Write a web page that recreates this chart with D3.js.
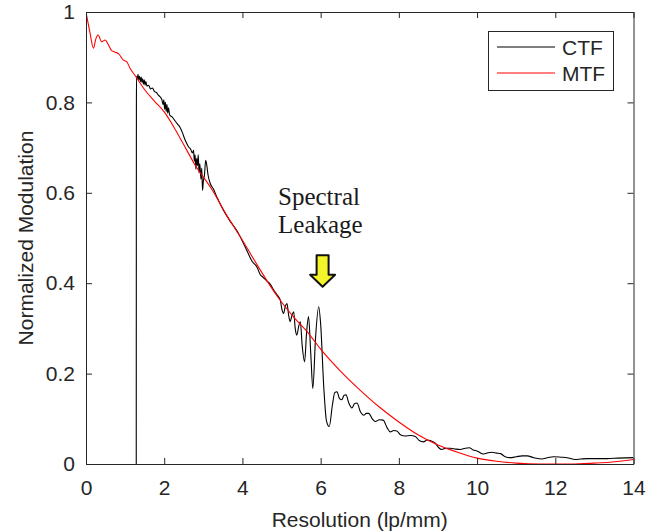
<!DOCTYPE html>
<html><head><meta charset="utf-8">
<script src="https://cdn.jsdelivr.net/npm/d3@7"></script>
<style>body{margin:0;background:#fff}svg{display:block}</style>
</head><body><svg id="c" width="669" height="531"></svg>
<script>
// ---- data ----
const xTicks = [0, 2, 4, 6, 8, 10, 12, 14];
const yTicks = [0, 0.2, 0.4, 0.6, 0.8, 1];
const yTickLabels = ["0", "0.2", "0.4", "0.6", "0.8", "1"];
const seriesNames = ["CTF", "MTF"];
const seriesColors = ["#000000", "#ff0000"];
const mtfX = [0,0.1,0.19,0.25,0.31,0.4,0.49,0.57,0.65,0.75,0.83,0.95,1.04,1.13,1.25,1.5,1.75,2.0,2.4,2.8,3.2,3.6,4.0,4.45,4.9,5.3,5.7,6.0,6.5,7.0,7.5,8.0,8.5,9.0,9.5,10.0,10.5,11.0,11.6,12.4,13.0,13.4,14.0];
const mtfY = [1.0,0.955,0.92,0.94,0.949,0.934,0.938,0.928,0.915,0.911,0.908,0.894,0.89,0.875,0.86,0.828,0.803,0.779,0.722,0.66,0.61,0.55,0.495,0.43,0.37,0.326,0.288,0.254,0.206,0.164,0.126,0.093,0.064,0.042,0.026,0.013,0.006,0.002,0.0,0.0,0.002,0.004,0.01];
const ctfX = [1.285,1.29,1.31,1.33,1.35,1.37,1.39,1.41,1.43,1.45,1.47,1.49,1.51,1.53,1.56,1.6,1.65,1.7,1.75,1.8,1.85,1.9,1.94,1.97,1.99,2.01,2.03,2.05,2.07,2.09,2.11,2.14,2.2,2.27,2.34,2.41,2.47,2.52,2.57,2.62,2.68,2.72,2.75,2.77,2.79,2.81,2.83,2.85,2.87,2.89,2.91,2.94,2.96,2.98,3.0,3.03,3.06,3.09,3.12,3.18,3.26,3.35,3.51,3.68,3.86,4.0,4.11,4.25,4.37,4.45,4.54,4.62,4.71,4.8,4.88,4.97,5.01,5.05,5.1,5.14,5.18,5.22,5.27,5.31,5.35,5.39,5.44,5.48,5.53,5.59,5.64,5.69,5.75,5.8,5.87,5.95,6.0,6.08,6.15,6.22,6.3,6.36,6.42,6.48,6.54,6.6,6.65,6.72,6.8,6.87,6.93,7.02,7.1,7.17,7.23,7.32,7.4,7.5,7.6,7.7,7.78,7.87,7.95,8.05,8.16,8.3,8.42,8.52,8.63,8.72,8.8,8.93,9.02,9.1,9.2,9.32,9.45,9.57,9.7,9.8,9.9,10.0,10.1,10.17,10.28,10.38,10.5,10.6,10.72,10.85,11.0,11.15,11.28,11.45,11.66,11.8,11.96,12.15,12.3,12.51,12.65,12.82,13.0,13.33,13.6,14.0];
const ctfY = [0,0.858,0.852,0.862,0.85,0.858,0.846,0.856,0.844,0.852,0.84,0.85,0.838,0.846,0.836,0.838,0.83,0.832,0.824,0.822,0.816,0.812,0.806,0.795,0.806,0.785,0.8,0.78,0.795,0.776,0.788,0.772,0.768,0.76,0.752,0.744,0.732,0.72,0.71,0.702,0.696,0.688,0.694,0.67,0.684,0.652,0.676,0.66,0.684,0.644,0.664,0.63,0.655,0.605,0.625,0.64,0.672,0.66,0.64,0.62,0.608,0.59,0.562,0.538,0.516,0.493,0.473,0.448,0.436,0.42,0.412,0.405,0.398,0.385,0.375,0.362,0.342,0.333,0.35,0.355,0.33,0.315,0.33,0.337,0.3,0.285,0.305,0.315,0.26,0.226,0.29,0.326,0.24,0.167,0.28,0.348,0.31,0.17,0.095,0.083,0.13,0.158,0.16,0.145,0.142,0.152,0.153,0.135,0.124,0.134,0.135,0.115,0.108,0.112,0.112,0.1,0.094,0.098,0.097,0.08,0.071,0.074,0.073,0.064,0.062,0.063,0.061,0.052,0.049,0.053,0.052,0.046,0.036,0.032,0.035,0.035,0.033,0.032,0.035,0.036,0.031,0.029,0.024,0.022,0.025,0.026,0.024,0.023,0.016,0.014,0.016,0.018,0.018,0.014,0.011,0.014,0.016,0.015,0.014,0.01,0.011,0.012,0.012,0.012,0.013,0.014];
const annotationLines = ["Spectral", "Leakage"];
const annotationPos = [4.91, 0.573];   // data coords of text start
const arrowPos = [6.05, 0.462, 0.392]; // x, top y, tip y (data)

// ---- layout ----
const L = 86, R = 633.5, T = 12, B = 464;
const svg = d3.select("#c");
const x = d3.scaleLinear().domain([0, 14]).range([L, R]);
const y = d3.scaleLinear().domain([0, 1]).range([B, T]);
const axisCol = "#262626";
const font = "'Liberation Sans', Arial, Helvetica, sans-serif";

svg.append("rect").attr("width", 669).attr("height", 531).attr("fill", "#fff");

svg.append("clipPath").attr("id", "clip").append("rect")
  .attr("x", L).attr("y", T - 1).attr("width", R - L).attr("height", B - T + 1);

const line = d3.line().x(d => x(d[0])).y(d => y(d[1])).curve(d3.curveMonotoneX);
const ctf = ctfX.map((v, i) => [v, ctfY[i]]);
const mtf = mtfX.map((v, i) => [v, mtfY[i]]);

const g = svg.append("g").attr("clip-path", "url(#clip)");
g.append("path").datum(ctf).attr("d", line).attr("fill", "none")
  .attr("stroke", seriesColors[0]).attr("stroke-width", 1.1).attr("stroke-linejoin", "round");
g.append("path").datum(mtf).attr("d", line).attr("fill", "none")
  .attr("stroke", seriesColors[1]).attr("stroke-width", 1.1).attr("stroke-linejoin", "round");

const tl = 6;
const xb = d3.axisBottom(x).tickValues(xTicks).tickSizeInner(-tl).tickSizeOuter(0).tickFormat(d3.format("d")).tickPadding(16);
const xt = d3.axisTop(x).tickValues(xTicks).tickSizeInner(-tl).tickSizeOuter(0).tickFormat("");
const yl = d3.axisLeft(y).tickValues(yTicks).tickSizeInner(-tl).tickSizeOuter(0).tickFormat((d, i) => yTickLabels[i]).tickPadding(11);
const yr = d3.axisRight(y).tickValues(yTicks).tickSizeInner(-tl).tickSizeOuter(0).tickFormat("");

function style(sel) {
  sel.selectAll("path").attr("stroke", axisCol).attr("stroke-width", 1);
  sel.selectAll("line").attr("stroke", axisCol).attr("stroke-width", 1);
  sel.selectAll("text").attr("fill", axisCol).style("font-family", font).style("font-size", "21px");
}
style(svg.append("g").attr("transform", `translate(0,${B})`).call(xb));
style(svg.append("g").attr("transform", `translate(0,${T})`).call(xt));
style(svg.append("g").attr("transform", `translate(${L},0)`).call(yl));
style(svg.append("g").attr("transform", `translate(${R},0)`).call(yr));

svg.append("text").attr("x", (L + R) / 2).attr("y", 527).attr("text-anchor", "middle")
  .attr("fill", axisCol).style("font-family", font).style("font-size", "21px").text("Resolution (lp/mm)");
svg.append("text").attr("transform", `translate(33,${(T + B) / 2}) rotate(-90)`).attr("text-anchor", "middle")
  .attr("fill", axisCol).style("font-family", font).style("font-size", "21px").text("Normalized Modulation");

const lg = svg.append("g");
lg.append("rect").attr("x", 488.5).attr("y", 31.5).attr("width", 125).attr("height", 59)
  .attr("fill", "#fff").attr("stroke", axisCol).attr("stroke-width", 1);
seriesNames.forEach((n, i) => {
  const yy = 47 + i * 26;
  lg.append("line").attr("x1", 497).attr("x2", 555).attr("y1", yy).attr("y2", yy)
    .attr("stroke", seriesColors[i]).attr("stroke-width", 1.1);
  lg.append("text").attr("x", 562).attr("y", yy + 7.5).attr("fill", axisCol)
    .style("font-family", font).style("font-size", "21px").text(n);
});

annotationLines.forEach((t, i) => {
  svg.append("text").attr("x", x(annotationPos[0])).attr("y", y(annotationPos[1]) + i * 28)
    .style("font-family", "'Liberation Serif', 'Times New Roman', serif").style("font-size", "25px")
    .attr("fill", "#1a1a1a").text(t);
});
const ax = x(arrowPos[0]), aTop = y(arrowPos[1]), aTip = y(arrowPos[2]);
const sw = 6, hw = 12.5, hh = 12;
const pts = [[ax - sw, aTop], [ax + sw, aTop], [ax + sw, aTip - hh], [ax + hw, aTip - hh], [ax, aTip],
  [ax - hw, aTip - hh], [ax - sw, aTip - hh]];
svg.append("path").attr("d", "M" + pts.map(p => p.join(",")).join("L") + "Z")
  .attr("fill", "#f4f42a").attr("stroke", "#111").attr("stroke-width", 2).attr("stroke-linejoin", "round");
</script></body></html>
